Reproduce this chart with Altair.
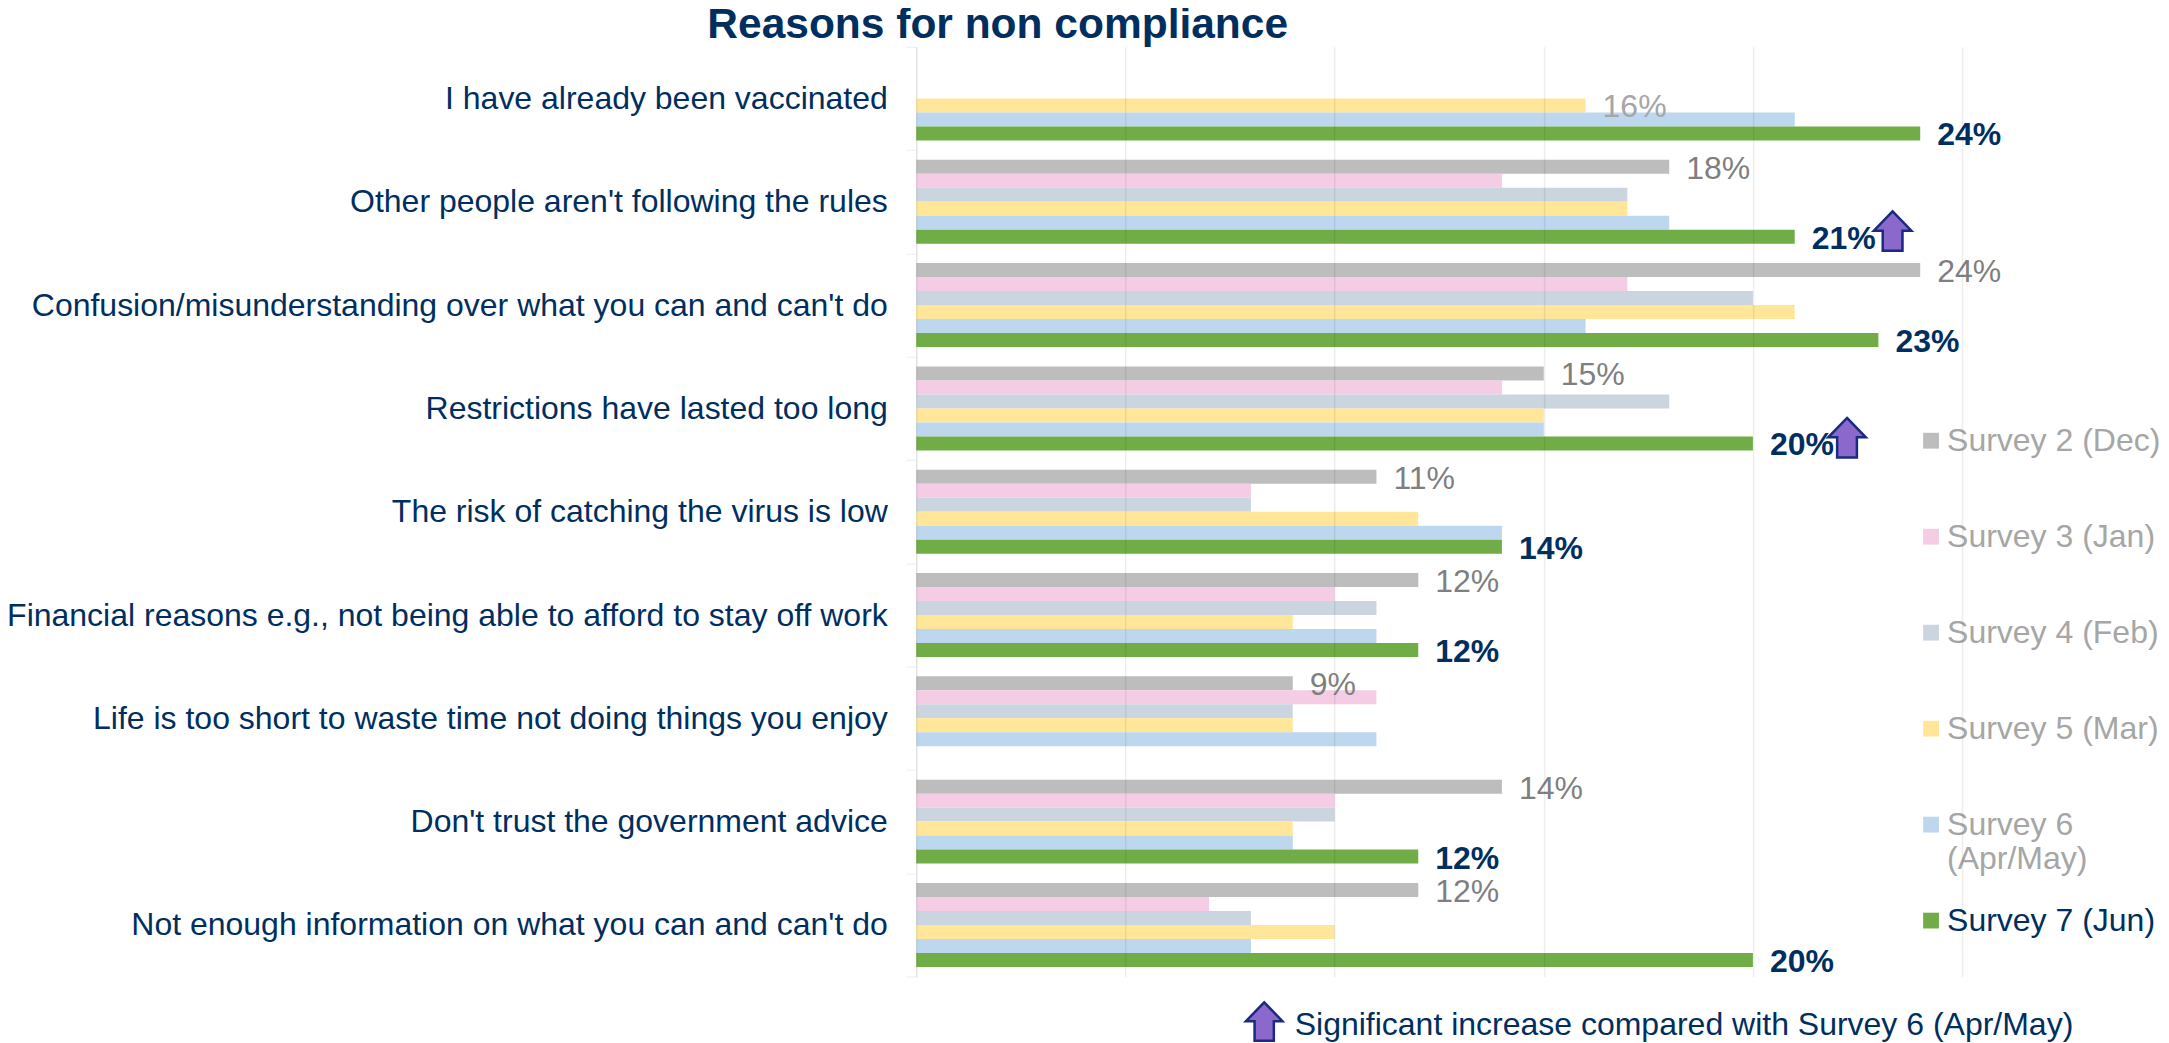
import altair as alt
import pandas as pd

categories = [
    "I have already been vaccinated",
    "Other people aren't following the rules",
    "Confusion/misunderstanding over what you can and can't do",
    "Restrictions have lasted too long",
    "The risk of catching the virus is low",
    "Financial reasons e.g., not being able to afford to stay off work",
    "Life is too short to waste time not doing things you enjoy",
    "Don't trust the government advice",
    "Not enough information on what you can and can't do",
]
series = ["Survey 2 (Dec)", "Survey 3 (Jan)", "Survey 4 (Feb)", "Survey 5 (Mar)", "Survey 6 (Apr/May)", "Survey 7 (Jun)"]
colors = ["#BDBDBD", "#F4CCE4", "#CBD5E0", "#FFE699", "#BDD7EE", "#70AD47"]

survey2 = [None, 18, 24, 15, 11, 12, 9, 14, 12]
survey3 = [None, 14, 17, 14, 8, 10, 11, 10, 7]
survey4 = [None, 17, 20, 18, 8, 11, 9, 10, 8]
survey5 = [16, 17, 21, 15, 12, 9, 9, 9, 10]
survey6 = [21, 18, 16, 15, 14, 11, 11, 9, 8]
survey7 = [24, 21, 23, 20, 14, 12, None, 12, 20]
all_values = [survey2, survey3, survey4, survey5, survey6, survey7]
significant = ["Other people aren't following the rules", "Restrictions have lasted too long"]
arrow_x = [23.34, 22.25]

NAVY = "#002F5F"
FONT = "Liberation Sans"
SIZE = 32
ARROW = "M0,-1 L0.95,-0.02 L0.5,-0.02 L0.5,1 L-0.5,1 L-0.5,-0.02 L-0.95,-0.02 Z"

rows = []
for s, vals in zip(series, all_values):
    for c, v in zip(categories, vals):
        if v is not None:
            rows.append({"category": c, "series": s, "value": v, "label": f"{v}%"})
df = pd.DataFrame(rows)

first_rows = []
for i, c in enumerate(categories):
    for s, vals in zip(series, all_values):
        if vals[i] is not None:
            first_rows.append({"category": c, "series": s, "value": vals[i], "label": f"{vals[i]}%"})
            break
first_df = pd.DataFrame(first_rows)
green_df = df[df.series == series[5]]
arrow_df = pd.DataFrame({"category": significant, "value": arrow_x})

y_enc = alt.Y(
    "category:N", sort=categories, title=None,
    scale=alt.Scale(paddingInner=0, paddingOuter=0),
    axis=alt.Axis(labelFont=FONT, labelFontSize=SIZE, labelColor=NAVY, labelLimit=0, labelPadding=19,
                  tickSize=10, tickColor="#EDEDED", tickBand="extent", domainColor="#EDEDED", grid=False),
)
yo_enc = alt.YOffset("series:N", sort=series, scale=alt.Scale(domain=series, paddingInner=0, paddingOuter=0.69))
x_scale = alt.Scale(domain=[0, 25], nice=False)

bars = alt.Chart(df).mark_bar(size=14).encode(
    x=alt.X("value:Q", title=None, scale=x_scale,
            axis=alt.Axis(values=[0, 5, 10, 15, 20, 25], labels=False, ticks=False, domain=False, grid=True,
                          gridColor="#000000", gridOpacity=0.07, gridWidth=1.5, zindex=1)),
    y=y_enc,
    yOffset=yo_enc,
    color=alt.Color("series:N", sort=series, scale=alt.Scale(domain=series, range=colors),
                    legend=alt.Legend(
                        title=None, orient="none", legendX=996, legendY=378, columns=1, gridAlign="all",
                        labelFont=FONT, labelFontSize=SIZE,
                        labelColor=alt.ExprRef(f"datum.label == 'Survey 7 (Jun)' ? '{NAVY}' : '#A6A6A6'"),
                        labelExpr="datum.label == 'Survey 6 (Apr/May)' ? ['Survey 6', '(Apr/May)'] : datum.label",
                        labelOffset=0, symbolOffset=3, labelLimit=0, symbolType="square", symbolSize=250,
                        symbolStrokeWidth=0, rowPadding=30, padding=0)),
)

def label_layer(data, color, weight):
    return alt.Chart(data).mark_text(align="left", baseline="middle", dx=17, dy=2, font=FONT, fontSize=SIZE,
                                     color=color, fontWeight=weight).encode(
        x=alt.X("value:Q", scale=x_scale), y=y_enc, yOffset=yo_enc, text="label:N")

labels_gray = label_layer(first_df[first_df.series != series[3]], "#7F7F7F", "normal")
labels_light = label_layer(first_df[first_df.series == series[3]], "#A6A6A6", "normal")
labels_green = label_layer(green_df, NAVY, "bold")

arrows = alt.Chart(arrow_df).mark_point(shape=ARROW, size=1560, filled=True, fill="#8B68CC", stroke="#1B2A80",
                                        strokeWidth=2.5, opacity=1).encode(
    x=alt.X("value:Q", scale=x_scale), y=y_enc, yOffset=alt.value(81))

note = pd.DataFrame({"text": ["Significant increase compared with Survey 6 (Apr/May)"]})
note_text = alt.Chart(note).mark_text(align="left", baseline="middle", font=FONT, fontSize=SIZE, color=NAVY).encode(
    x=alt.value(378.5), y=alt.value(978), text="text:N")
note_arrow = alt.Chart(note).mark_point(shape=ARROW, size=1480, filled=True, fill="#8B68CC", stroke="#1B2A80",
                                        strokeWidth=2.5, opacity=1).encode(
    x=alt.value(348), y=alt.value(975))

chart = alt.layer(bars, labels_gray, labels_light, labels_green, arrows, note_arrow, note_text).properties(
    width=1046, height=930,
    title=alt.TitleParams("Reasons for non compliance", font=FONT, fontSize=42.5, fontWeight="bold", color=NAVY,
                          anchor="start", frame="group", dx=-209, dy=18, offset=2),
    padding={"left": 908.5, "top": 38.7, "right": 199, "bottom": 66},
    autosize=alt.AutoSizeParams(type="none"),
).configure_view(stroke=None)

chart.save("out.html", embed_options={"renderer": "svg", "actions": False})
